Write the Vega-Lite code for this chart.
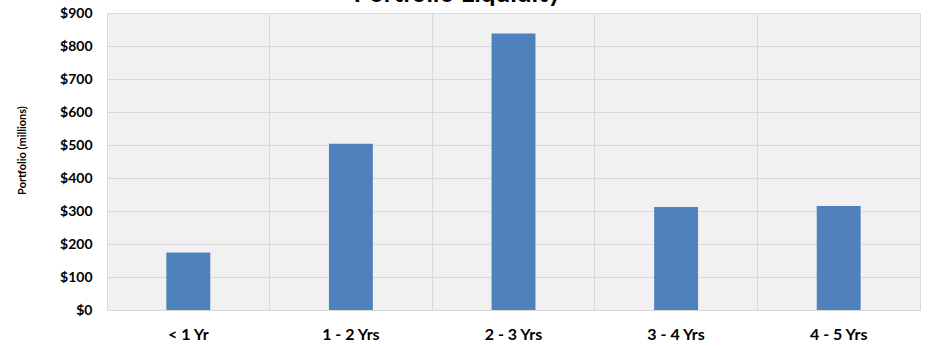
{
  "$schema": "https://vega.github.io/schema/vega-lite/v6.json",
  "autosize": "none",
  "width": 813,
  "height": 297,
  "padding": {"left": 107, "top": 13, "right": 28, "bottom": 36},
  "background": "white",
  "title": {
    "text": "Portfolio Liquidity",
    "font": "Lato",
    "fontSize": 26,
    "fontWeight": "bold",
    "color": "#000000",
    "anchor": "middle",
    "baseline": "alphabetic",
    "offset": 0,
    "dx": -56,
    "dy": 22
  },
  "data": {
    "values": [
      {"term": "< 1 Yr", "value": 174},
      {"term": "1 - 2 Yrs", "value": 504},
      {"term": "2 - 3 Yrs", "value": 838},
      {"term": "3 - 4 Yrs", "value": 312},
      {"term": "4 - 5 Yrs", "value": 315}
    ]
  },
  "mark": {"type": "bar", "color": "#4f81bd", "width": {"band": 0.27}},
  "encoding": {
    "x": {
      "field": "term",
      "type": "nominal",
      "sort": null,
      "scale": {"paddingInner": 0, "paddingOuter": 0},
      "axis": {
        "title": null,
        "labelAngle": 0,
        "labelFont": "Lato",
        "labelFontSize": 16,
        "labelFontWeight": "bold",
        "labelColor": "#000000",
        "labelPadding": 16,
        "domain": false,
        "ticks": false,
        "grid": true,
        "bandPosition": 0,
        "gridColor": "#d9d9d9",
        "gridWidth": 1
      }
    },
    "y": {
      "field": "value",
      "type": "quantitative",
      "scale": {"domain": [0, 900], "nice": false},
      "axis": {
        "title": "Portfolio (millions)",
        "titleFont": "Lato",
        "titleFontSize": 11,
        "titleFontWeight": "bold",
        "titleColor": "#000000",
        "titleX": -80,
        "titleY": 137,
        "values": [0, 100, 200, 300, 400, 500, 600, 700, 800, 900],
        "labelExpr": "'$' + datum.value",
        "labelFont": "Lato",
        "labelFontSize": 14,
        "labelFontWeight": "bold",
        "labelColor": "#000000",
        "labelPadding": 15,
        "domain": false,
        "ticks": false,
        "grid": true,
        "gridColor": "#d9d9d9",
        "gridWidth": 1
      }
    }
  },
  "config": {
    "view": {"fill": "#f1f1f1", "stroke": "#d9d9d9", "strokeWidth": 1}
  }
}
